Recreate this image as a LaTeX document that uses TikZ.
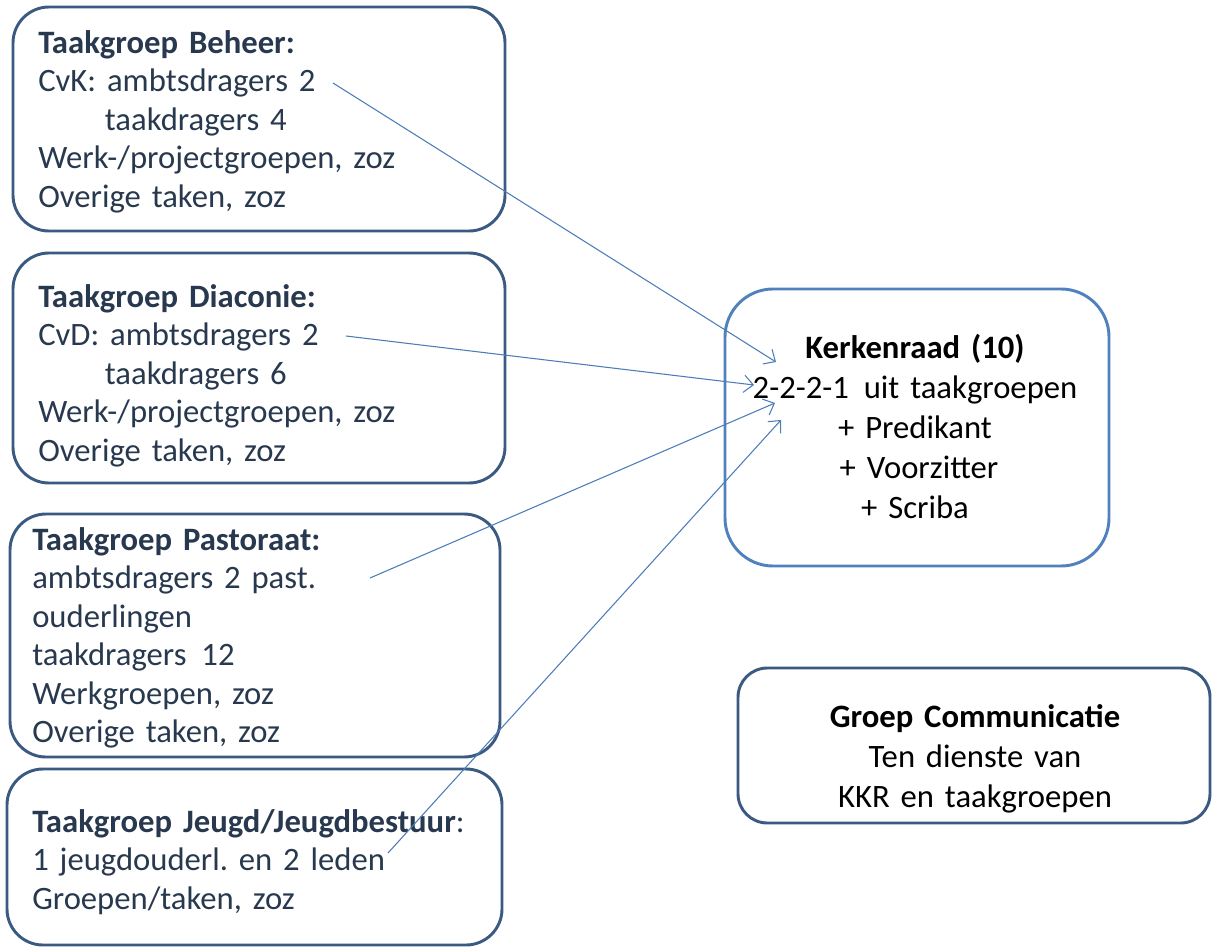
\documentclass[tikz,border=0pt]{standalone}
\usepackage{fontspec}
\setmainfont{Carlito}
\usetikzlibrary{arrows.meta}
\frenchspacing
\definecolor{darkline}{HTML}{3A5A82}
\definecolor{krline}{HTML}{5081BC}
\definecolor{arrowcol}{HTML}{4C7DB8}
\definecolor{leftText}{HTML}{28394F}
\tikzset{
  tgbox/.style={draw=darkline, line width=2.2pt, rounded corners=27pt, inner sep=0pt},
  krbox/.style={draw=krline, line width=2.2pt, rounded corners=36pt, inner sep=0pt},
  commbox/.style={draw=darkline, line width=2.2pt, rounded corners=22pt, inner sep=0pt},
  lefttext/.style={anchor=base west, inner sep=0pt, text width=350pt, align=left, text=leftText,
    font=\fontsize{24.5}{28.8}\selectfont},
  centertext/.style={anchor=base, inner sep=0pt, text width=340pt, align=center, text=black,
    font=\fontsize{24.5}{30}\selectfont},
  link/.style={draw=arrowcol, line width=0.8pt, -{Straight Barb[length=7pt,width=13pt]}}
}
\begin{document}
\begin{tikzpicture}[x=0.75pt,y=-0.75pt]
\useasboundingbox (0,0) rectangle (1213,949);
% boxes
\node[tgbox, minimum width=369pt, minimum height=168pt] (beheer) at (259,119) {};
\node[tgbox, minimum width=369pt, minimum height=172.5pt] (diaconie) at (259,368) {};
\node[tgbox, minimum width=367.5pt, minimum height=182.25pt] (pastoraat) at (255,635.5) {};
\node[tgbox, minimum width=371.25pt, minimum height=132pt] (jeugd) at (254.5,857) {};
\node[krbox, minimum width=288pt, minimum height=207.75pt] (kerkenraad) at (917,427.5) {};
\node[commbox, minimum width=354pt, minimum height=116.25pt] (communicatie) at (974,745.5) {};
% texts
\node[lefttext] (tbeheer) at (38,53.5) {\textbf{Taakgroep Beheer:}\\
CvK: ambtsdragers 2\\
\hspace*{50pt}taakdragers 4\\
Werk-/projectgroepen, zoz\\
Overige taken, zoz};
\node[lefttext] (tdiaconie) at (38,307.5) {\textbf{Taakgroep Diaconie:}\\
CvD: ambtsdragers 2\\
\hspace*{50pt}taakdragers 6\\
Werk-/projectgroepen, zoz\\
Overige taken, zoz};
\node[lefttext] (tpastoraat) at (32,550.5) {\textbf{Taakgroep Pastoraat:}\\
ambtsdragers 2 past.\\
ouderlingen\\
taakdragers\hspace{3pt} 12\\
Werkgroepen, zoz\\
Overige taken, zoz};
\node[lefttext] (tjeugd) at (32,832.5) {\textbf{Taakgroep Jeugd/Jeugdbestuur}:\\
1 jeugdouderl. en 2 leden\\
Groepen/taken, zoz};
\node[centertext] (tkerkenraad) at (915,358.5) {\textbf{Kerkenraad (10)}\\
2-2-2-1\hspace{3pt} uit taakgroepen\\
+ Predikant\\
\hspace*{6pt}+ Voorzitter\\
+ Scriba};
\node[centertext] (tcomm) at (975,727.5) {\textbf{Groep Communicatie}\\
Ten dienste van\\
KKR en taakgroepen};
% connector ends
\coordinate (s1) at (333,83);
\coordinate (e1) at (776,362);
\coordinate (s2) at (346,336);
\coordinate (e2) at (754,385);
\coordinate (s3) at (370,578);
\coordinate (e3) at (775,403);
\coordinate (s4) at (388,853);
\coordinate (e4) at (781,420);
\draw[link] (s1) -- (e1);
\draw[link] (s2) -- (e2);
\draw[link] (s3) -- (e3);
\draw[link] (s4) -- (e4);
\end{tikzpicture}
\end{document}
